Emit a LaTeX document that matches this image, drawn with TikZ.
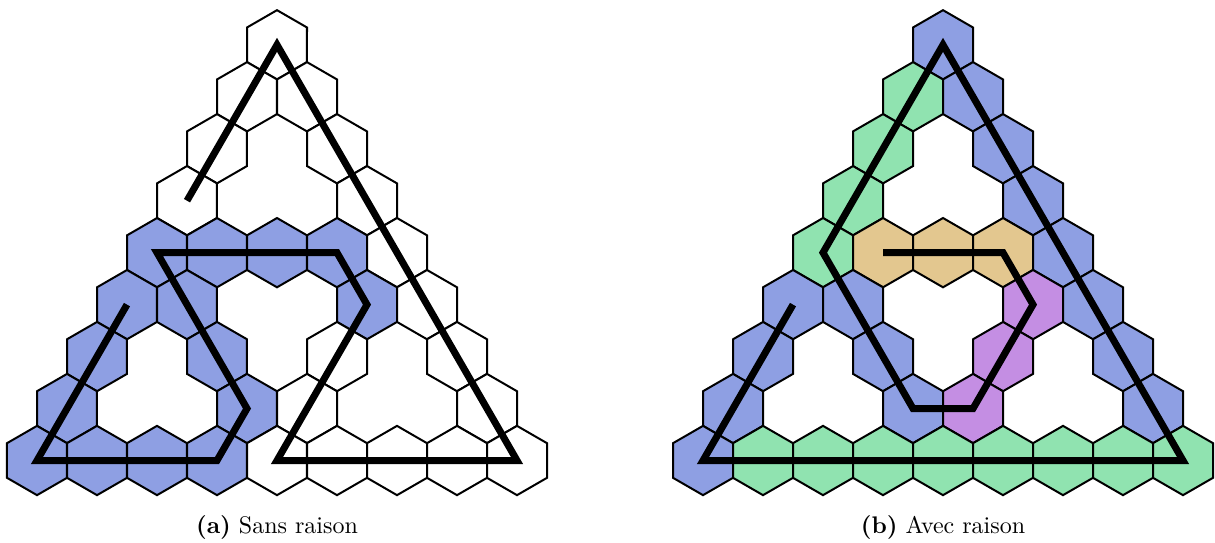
\documentclass[tikz,border=0pt]{standalone}
\usepackage{tikz}
\usetikzlibrary{shapes.geometric}
\usepackage{xcolor}
\definecolor{hexblue}{RGB}{142,159,227}
\definecolor{hexgreen}{RGB}{144,227,176}
\definecolor{hextan}{RGB}{227,199,143}
\definecolor{hexpurple}{RGB}{196,142,227}

\begin{document}
\begin{tikzpicture}[
  x=12pt, y=-20.785pt,
  hexcell/.style={draw, line width=0.8pt, regular polygon, regular polygon sides=6,
                  rotate=30, minimum size=27.71pt, inner sep=0pt, fill=white},
  route/.style={line width=2.8pt, line join=miter},
  caption/.style={anchor=base, font=\fontsize{9.6}{11.5}\selectfont}
]
\useasboundingbox (-9.2333,-0.8622) rectangle (31.2667,9.5689);

%% (a) Sans raison
\node[hexcell] (a00) at (0,0) {};
\node[hexcell] (a10) at (-1,1) {};
\node[hexcell] (a11) at (1,1) {};
\node[hexcell] (a20) at (-2,2) {};
\node[hexcell] (a22) at (2,2) {};
\node[hexcell] (a30) at (-3,3) {};
\node[hexcell] (a33) at (3,3) {};
\node[hexcell, fill=hexblue] (a40) at (-4,4) {};
\node[hexcell, fill=hexblue] (a41) at (-2,4) {};
\node[hexcell, fill=hexblue] (a42) at (0,4) {};
\node[hexcell, fill=hexblue] (a43) at (2,4) {};
\node[hexcell] (a44) at (4,4) {};
\node[hexcell, fill=hexblue] (a50) at (-5,5) {};
\node[hexcell, fill=hexblue] (a51) at (-3,5) {};
\node[hexcell, fill=hexblue] (a54) at (3,5) {};
\node[hexcell] (a55) at (5,5) {};
\node[hexcell, fill=hexblue] (a60) at (-6,6) {};
\node[hexcell, fill=hexblue] (a62) at (-2,6) {};
\node[hexcell] (a64) at (2,6) {};
\node[hexcell] (a66) at (6,6) {};
\node[hexcell, fill=hexblue] (a70) at (-7,7) {};
\node[hexcell, fill=hexblue] (a73) at (-1,7) {};
\node[hexcell] (a74) at (1,7) {};
\node[hexcell] (a77) at (7,7) {};
\node[hexcell, fill=hexblue] (a80) at (-8,8) {};
\node[hexcell, fill=hexblue] (a81) at (-6,8) {};
\node[hexcell, fill=hexblue] (a82) at (-4,8) {};
\node[hexcell, fill=hexblue] (a83) at (-2,8) {};
\node[hexcell] (a84) at (0,8) {};
\node[hexcell] (a85) at (2,8) {};
\node[hexcell] (a86) at (4,8) {};
\node[hexcell] (a87) at (6,8) {};
\node[hexcell] (a88) at (8,8) {};

\draw[route] (a30.center) -- (a00.center) -- (a88.center) -- (a84.center)
  -- (a54.center) -- (a43.center) -- (a40.center) -- (a73.center)
  -- (a83.center) -- (a80.center) -- (a50.center);

\node[caption] (capa) at (0,9.396) {\textbf{(a)} Sans raison};

%% (b) Avec raison
\node[hexcell, fill=hexblue] (b00) at (22.2,0) {};
\node[hexcell, fill=hexgreen] (b10) at (21.2,1) {};
\node[hexcell, fill=hexblue] (b11) at (23.2,1) {};
\node[hexcell, fill=hexgreen] (b20) at (20.2,2) {};
\node[hexcell, fill=hexblue] (b22) at (24.2,2) {};
\node[hexcell, fill=hexgreen] (b30) at (19.2,3) {};
\node[hexcell, fill=hexblue] (b33) at (25.2,3) {};
\node[hexcell, fill=hexgreen] (b40) at (18.2,4) {};
\node[hexcell, fill=hextan] (b41) at (20.2,4) {};
\node[hexcell, fill=hextan] (b42) at (22.2,4) {};
\node[hexcell, fill=hextan] (b43) at (24.2,4) {};
\node[hexcell, fill=hexblue] (b44) at (26.2,4) {};
\node[hexcell, fill=hexblue] (b50) at (17.2,5) {};
\node[hexcell, fill=hexblue] (b51) at (19.2,5) {};
\node[hexcell, fill=hexpurple] (b54) at (25.2,5) {};
\node[hexcell, fill=hexblue] (b55) at (27.2,5) {};
\node[hexcell, fill=hexblue] (b60) at (16.2,6) {};
\node[hexcell, fill=hexblue] (b62) at (20.2,6) {};
\node[hexcell, fill=hexpurple] (b64) at (24.2,6) {};
\node[hexcell, fill=hexblue] (b66) at (28.2,6) {};
\node[hexcell, fill=hexblue] (b70) at (15.2,7) {};
\node[hexcell, fill=hexblue] (b73) at (21.2,7) {};
\node[hexcell, fill=hexpurple] (b74) at (23.2,7) {};
\node[hexcell, fill=hexblue] (b77) at (29.2,7) {};
\node[hexcell, fill=hexblue] (b80) at (14.2,8) {};
\node[hexcell, fill=hexgreen] (b81) at (16.2,8) {};
\node[hexcell, fill=hexgreen] (b82) at (18.2,8) {};
\node[hexcell, fill=hexgreen] (b83) at (20.2,8) {};
\node[hexcell, fill=hexgreen] (b84) at (22.2,8) {};
\node[hexcell, fill=hexgreen] (b85) at (24.2,8) {};
\node[hexcell, fill=hexgreen] (b86) at (26.2,8) {};
\node[hexcell, fill=hexgreen] (b87) at (28.2,8) {};
\node[hexcell, fill=hexgreen] (b88) at (30.2,8) {};

\draw[route] (b50.center) -- (b80.center) -- (b88.center) -- (b00.center)
  -- (b40.center) -- (b73.center) -- (b74.center) -- (b54.center)
  -- (b43.center) -- (b41.center);

\node[caption] (capb) at (22.2,9.396) {\textbf{(b)} Avec raison};

\end{tikzpicture}
\end{document}
